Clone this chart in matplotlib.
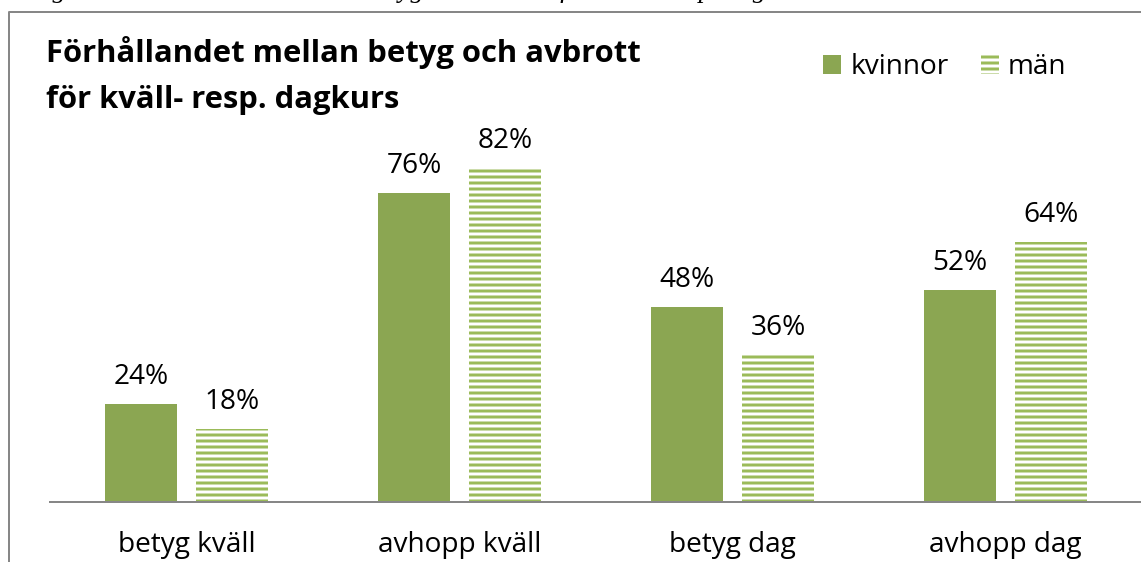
import matplotlib
matplotlib.use("Agg")
import matplotlib.pyplot as plt
from matplotlib.patches import Patch
from matplotlib.lines import Line2D
import numpy as np

# pixel canvas 1141 x 562, dpi 108 so the hatch unit is 108 px (18 lines -> 6 px)
DPI = 108
W, H = 1141, 562
PT = 72 / DPI  # points per pixel

categories = ["betyg kväll", "avhopp kväll", "betyg dag", "avhopp dag"]
kvinnor = [0.24, 0.76, 0.48, 0.52]
man = [0.18, 0.82, 0.36, 0.64]
series_names = ["kvinnor", "män"]

SOLID = "#8BA652"
HATCH = "#9BBB59"
BORDER = "#878787"
FONT = "Open Sans"

plt.rcParams["font.family"] = [FONT, "DejaVu Sans"]
plt.rcParams["hatch.linewidth"] = 3 * PT

fig = plt.figure(figsize=(W / DPI, H / DPI), dpi=DPI)

# plot area in pixels: x 50..1142, baseline y=502, 100% = 407 px
left, right, base, top = 50, 1142, 502, 95
ax = fig.add_axes([left / W, (H - base) / H, (right - left) / W, (base - top) / H])
ax.set_xlim(-0.5, len(categories) - 0.5)
ax.set_ylim(0, 1.0)

x = np.arange(len(categories))
bw = 0.264
off = 0.167
b1 = ax.bar(x - off, kvinnor, bw, color=SOLID, linewidth=0)
b2 = ax.bar(x + off, man, bw, facecolor="white", edgecolor=HATCH, hatch="---", linewidth=0)

fs = 28 * PT
for bars, vals in ((b1, kvinnor), (b2, man)):
    for r, v in zip(bars, vals):
        ax.annotate(f"{v:.0%}", (r.get_x() + r.get_width() / 2, v),
                    xytext=(0, 13 * PT), textcoords="offset points",
                    ha="center", va="bottom", fontsize=fs, color="black")

for s in ["top", "right", "left"]:
    ax.spines[s].set_visible(False)
ax.spines["bottom"].set_color(BORDER)
ax.spines["bottom"].set_linewidth(2 * PT)
ax.set_yticks([])
ax.set_xticks(x)
ax.set_xticklabels(categories, fontsize=fs)
ax.tick_params(axis="x", length=0, pad=29 * PT)

# chart border (cut off at right and bottom)
fig.add_artist(Line2D([9 / W, 9 / W, 1.0], [0, (H - 12) / H, (H - 12) / H],
                      color=BORDER, linewidth=2 * PT))

# title, two lines
title_lines = ["Förhållandet mellan betyg och avbrott", "för kväll- resp. dagkurs"]
for i, line in enumerate(title_lines):
    fig.text(46 / W, (H - 62 - 46 * i) / H, line,
             fontsize=31 * PT, fontweight="bold", ha="left", va="baseline")

# legend
handles = [Patch(facecolor=SOLID, linewidth=0),
           Patch(facecolor="white", edgecolor=HATCH, hatch="---", linewidth=0)]
fig.legend(handles, series_names, loc="upper left", bbox_to_anchor=(812 / W, (H - 42) / H),
           ncol=2, frameon=False, fontsize=fs, handlelength=0.65, handleheight=0.65,
           handletextpad=0.32, columnspacing=1.15, borderaxespad=0)

# caption of the page, only the lower edge is visible
fig.text(12 / W, (H + 3) / H, "Diagram 7 Förhållandet mellan betyg och avbrott för kväll- resp. dagkurs",
         family="Liberation Serif", style="italic", fontsize=27 * PT,
         ha="left", va="baseline")

fig.savefig("out.png", dpi=DPI)
